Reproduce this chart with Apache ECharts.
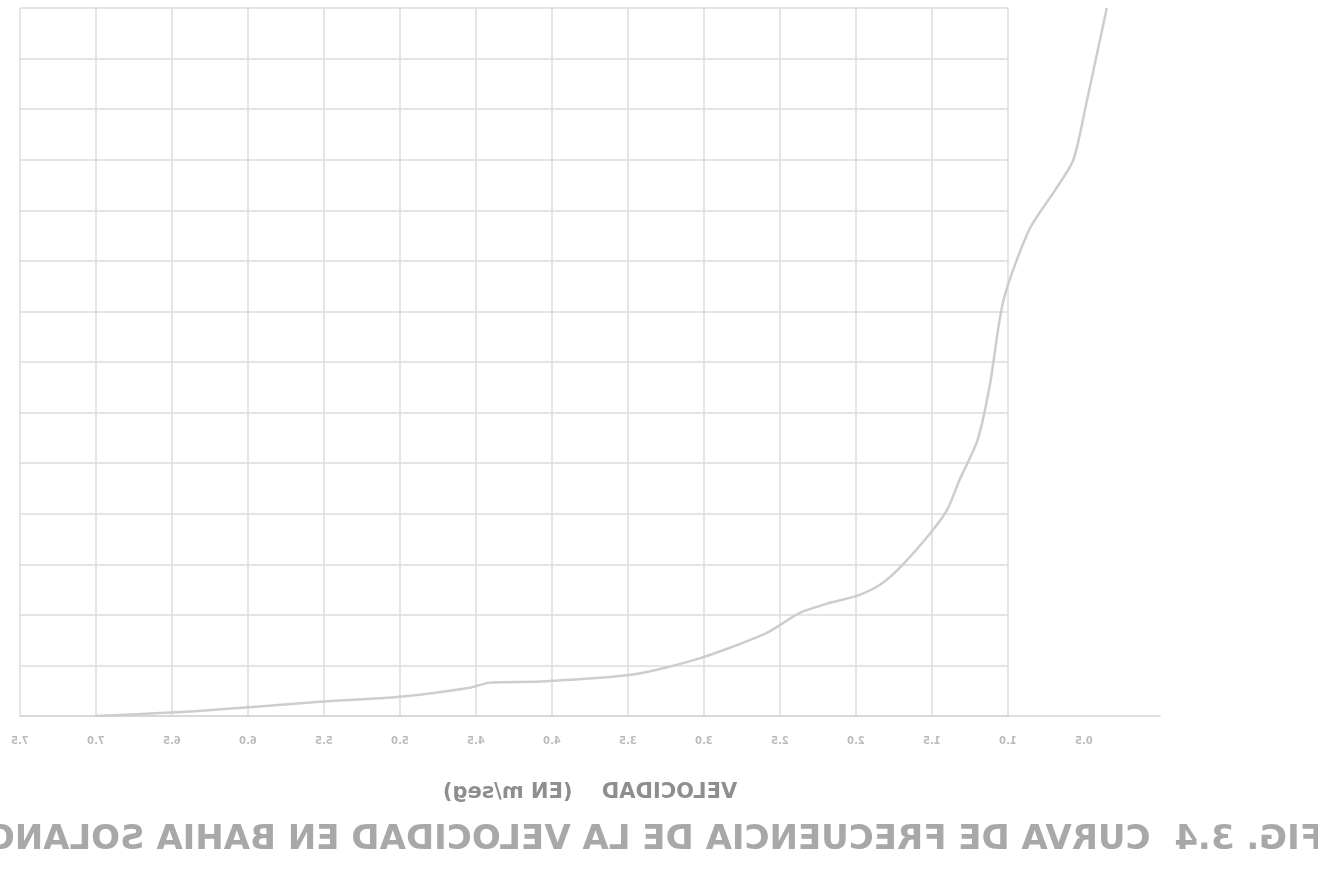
<!DOCTYPE html>
<html>
<head>
<meta charset="utf-8">
<script src="https://cdn.jsdelivr.net/npm/echarts@6/dist/echarts.min.js"></script>
<style>
  html, body { margin: 0; padding: 0; background: #fff; }
  /* the scanned figure is printed mirrored, so flip the whole chart */
  #main { width: 1318px; height: 870px; transform: scaleX(-1); }
</style>
</head>
<body>
<div id="main"></div>
<script>
// velocidad (m/seg) y frecuencia (%)
var velocidad = [7.0, 6.33, 5.53, 5.0, 4.54, 4.41, 4.08, 3.47, 3.03, 2.59, 2.37, 2.17, 1.99, 1.84, 1.71, 1.51, 1.40, 1.32, 1.20, 1.12, 1.03, 0.86, 0.69, 0.57, 0.48, 0.41, 0.35];
var frecuencia = [0, 0.5, 1.4, 1.9, 2.8, 3.3, 3.4, 4.1, 5.7, 8.2, 10.2, 11.2, 11.9, 13.0, 14.7, 18.1, 20.4, 23.3, 27.3, 32.7, 41.1, 48.1, 52.0, 55.0, 60.9, 65.8, 70];
var xTicks = ['', '0.5', '1.0', '1.5', '2.0', '2.5', '3.0', '3.5', '4.0', '4.5', '5.0', '5.5', '6.0', '6.5', '7.0', '7.5'];
var titulo = 'FIG. 3.4  CURVA DE FRECUENCIA DE LA VELOCIDAD EN BAHIA SOLANO';
var ejeX = 'VELOCIDAD    (EN m/seg)';

var puntos = [];
for (var i = 0; i < velocidad.length; i++) {
  puntos.push([velocidad[i], frecuencia[i]]);
}

var chart = echarts.init(document.getElementById('main'));
var option = {
  animation: false,
  backgroundColor: '#fff',
  title: {
    text: titulo,
    left: -10,
    top: 818,
    textStyle: { fontFamily: 'DejaVu Sans', fontWeight: 'bold', fontSize: 34, color: '#a8a8a8' }
  },
  grid: [
    // cuadricula del papel (solo de 1.0 a 7.5)
    { left: 310, right: 20, top: 8, bottom: 154 },
    // ejes de la curva
    { left: 158, right: 20, top: 8, bottom: 154 }
  ],
  xAxis: [
    {
      gridIndex: 0, type: 'value', min: 1, max: 7.5, interval: 0.5,
      axisLine: { show: false }, axisTick: { show: false }, axisLabel: { show: false },
      splitLine: { show: true, lineStyle: { color: '#dcdcdc', width: 1.5 } }
    },
    {
      gridIndex: 1, type: 'value', min: 0, max: 7.5, interval: 0.5,
      axisLine: { show: true, lineStyle: { color: '#d4d4d4', width: 1.5 } },
      axisTick: { show: false },
      splitLine: { show: false },
      axisLabel: {
        margin: 20, fontSize: 10, fontWeight: 'bold', fontFamily: 'DejaVu Sans', color: '#bcbcbc',
        formatter: function (v) { return xTicks[Math.round(v * 2)]; }
      },
      name: ejeX, nameLocation: 'middle', nameGap: 66,
      nameTextStyle: { fontFamily: 'DejaVu Sans', fontWeight: 'bold', fontSize: 21, color: '#8e8e8e' }
    }
  ],
  yAxis: [
    {
      gridIndex: 0, type: 'value', min: 0, max: 70, interval: 5,
      axisLine: { show: false }, axisTick: { show: false }, axisLabel: { show: false },
      splitLine: { show: true, lineStyle: { color: '#dcdcdc', width: 1.5 } }
    },
    {
      gridIndex: 1, type: 'value', min: 0, max: 70, interval: 5,
      axisLine: { show: false }, axisTick: { show: false }, axisLabel: { show: false },
      splitLine: { show: false }
    }
  ],
  series: [
    {
      type: 'line',
      xAxisIndex: 1, yAxisIndex: 1,
      data: puntos,
      smooth: 0.25,
      showSymbol: false,
      lineStyle: { color: '#cdcdcd', width: 2.5 }
    }
  ]
};
chart.setOption(option);
</script>
</body>
</html>
